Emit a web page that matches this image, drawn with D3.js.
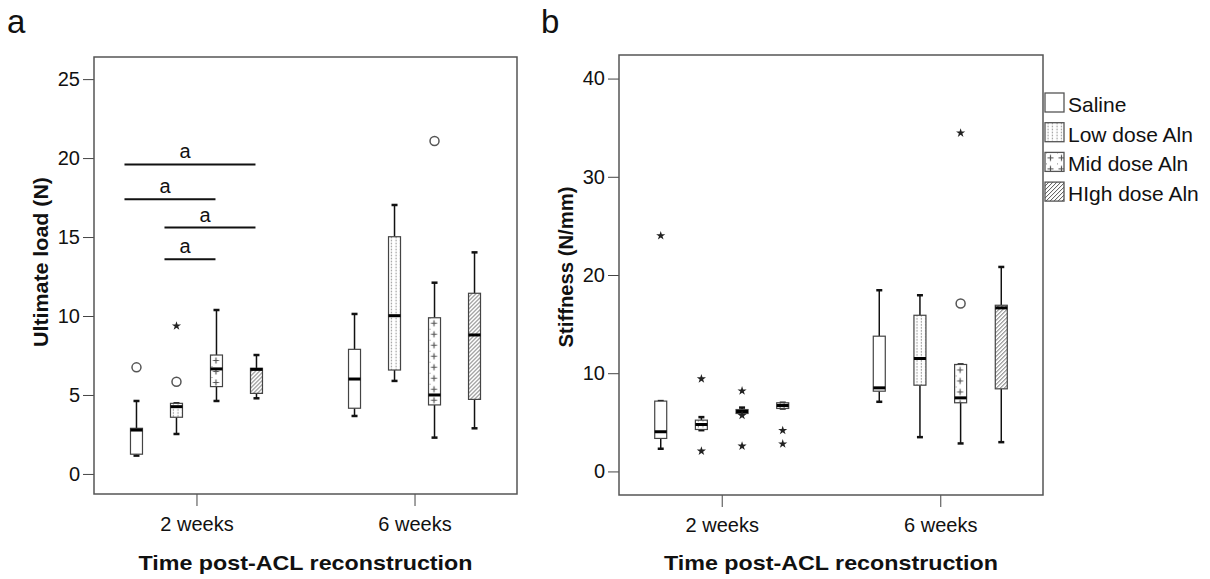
<!DOCTYPE html>
<html>
<head>
<meta charset="utf-8">
<script src="https://cdn.jsdelivr.net/npm/d3@7"></script>
<style>
  body { margin: 0; background: #fff; }
  text { font-family: Arial, "Liberation Sans", sans-serif; fill: #111; }
</style>
</head>
<body>
<svg id="chart" width="1210" height="579"></svg>
<script>
/*******************************************************************************************/
// Data

var timepoints = ['2 weeks', '6 weeks'];
var groups = ['Saline', 'Low dose Aln', 'Mid dose Aln', 'HIgh dose Aln'];

// [whisker low, Q1, median, Q3, whisker high], one row per group
var loadBoxes2wk  = [[1.16, 1.25, 2.78, 2.89, 4.62], [2.53, 3.59, 4.26, 4.47, 4.47], [4.62, 5.53, 6.65, 7.53, 10.38], [4.79, 5.10, 6.62, 6.69, 7.53]];
var loadBoxes6wk  = [[3.67, 4.16, 6.01, 7.89, 10.13], [5.89, 6.58, 10.02, 15.02, 17.03], [2.30, 4.37, 5.00, 9.89, 12.11], [2.89, 4.72, 8.80, 11.44, 14.03]];
var stiffBoxes2wk = [[2.31, 3.36, 4.04, 7.16, 7.16], [4.20, 4.27, 4.78, 5.22, 5.53], [5.85, 5.90, 6.10, 6.30, 6.50], [6.41, 6.41, 6.71, 6.99, 6.99]];
var stiffBoxes6wk = [[7.09, 8.17, 8.51, 13.77, 18.45], [3.49, 8.78, 11.50, 15.90, 17.94], [2.85, 6.99, 7.49, 10.89, 10.89], [2.98, 8.41, 16.65, 16.92, 20.82]];

// [timepoint, group, value, kind]  kind: 'o' outlier, '*' extreme
var loadOutliers = [
  ['2 weeks', 'Saline', 6.75, 'o'],
  ['2 weeks', 'Low dose Aln', 5.84, 'o'],
  ['2 weeks', 'Low dose Aln', 9.37, '*'],
  ['6 weeks', 'Mid dose Aln', 21.08, 'o']
];
var stiffOutliers = [
  ['2 weeks', 'Saline', 24.0, '*'],
  ['2 weeks', 'Low dose Aln', 9.43, '*'],
  ['2 weeks', 'Low dose Aln', 2.07, '*'],
  ['2 weeks', 'Mid dose Aln', 8.2, '*'],
  ['2 weeks', 'Mid dose Aln', 5.7, '*'],
  ['2 weeks', 'Mid dose Aln', 2.58, '*'],
  ['2 weeks', 'HIgh dose Aln', 4.17, '*'],
  ['2 weeks', 'HIgh dose Aln', 2.8, '*'],
  ['6 weeks', 'Mid dose Aln', 17.09, 'o'],
  ['6 weeks', 'Mid dose Aln', 34.46, '*']
];

// significance bars at 2 weeks: [from group, to group, height]
var sigBars = [
  ['Saline', 'HIgh dose Aln', 19.6],
  ['Saline', 'Mid dose Aln', 17.4],
  ['Low dose Aln', 'HIgh dose Aln', 15.6],
  ['Low dose Aln', 'Mid dose Aln', 13.6]
];

var loadTicks = [0, 5, 10, 15, 20, 25];
var stiffTicks = [0, 10, 20, 30, 40];

/*******************************************************************************************/
// Drawing

var svg = d3.select('#chart');
svg.append('rect').attr('width', 1210).attr('height', 579).attr('fill', '#fff');
var defs = svg.append('defs');
var patternKinds = ['plain', 'dots', 'plus', 'hatch'];
var patCount = 0;

function makeFill(kind, x0, y0){
  if(kind == 'plain') return '#fff';
  var id = 'pat' + (patCount++);
  var p = defs.append('pattern').attr('id', id).attr('patternUnits', 'userSpaceOnUse').attr('x', x0).attr('y', y0);
  if(kind == 'dots'){
    p.attr('width', 4.5).attr('height', 3);
    p.append('rect').attr('width', 4.5).attr('height', 3).attr('fill', '#fff');
    p.append('rect').attr('x', 2.5).attr('y', 0).attr('width', 1).attr('height', 1.4).attr('fill', '#777');
  }
  if(kind == 'plus'){
    p.attr('width', 11).attr('height', 11);
    p.append('rect').attr('width', 11).attr('height', 11).attr('fill', '#fff');
    p.append('path').attr('d', 'M5.5,2.5V8.5M2.5,5.5H8.5').attr('stroke', '#555').attr('stroke-width', 1.2);
    p.append('rect').attr('x', 1).attr('y', 0).attr('width', 1).attr('height', 1).attr('fill', '#888');
  }
  if(kind == 'hatch'){
    p.attr('width', 4).attr('height', 4);
    p.append('rect').attr('width', 4).attr('height', 4).attr('fill', '#fff');
    p.append('path').attr('d', 'M-1,1L1,-1M0,4L4,0M3,5L5,3').attr('stroke', '#555').attr('stroke-width', 1);
  }
  return 'url(#' + id + ')';
}

function drawPanel(o){
  var g = svg.append('g');
  var x = d3.scalePoint().domain(timepoints).range([o.x0, o.x1]).padding(0.47);
  var xg = d3.scalePoint().domain(groups).range([-o.spread, o.spread]);
  var y = d3.scaleLinear().domain(o.domain).range([o.y1, o.y0]);
  var bw = 12;

  // y axis
  var ya = g.append('g').attr('transform', 'translate(' + o.x0 + ',0)')
    .call(d3.axisLeft(y).tickValues(o.ticks).tickSize(11).tickPadding(3));
  ya.select('.domain').remove();
  ya.selectAll('line').attr('stroke', '#444');
  ya.selectAll('text').style('font-size', '20px').attr('fill', '#111');

  // x axis
  var xa = g.append('g').attr('transform', 'translate(0,' + o.y1 + ')')
    .call(d3.axisBottom(x).tickSize(12).tickPadding(11));
  xa.select('.domain').remove();
  xa.selectAll('line').attr('stroke', '#444');
  xa.selectAll('text').style('font-size', '20px').attr('fill', '#111');

  // frame
  g.append('rect').attr('x', o.x0).attr('y', o.y0).attr('width', o.x1 - o.x0).attr('height', o.y1 - o.y0)
    .attr('fill', 'none').attr('stroke', '#555').attr('stroke-width', 1.5);

  // boxes
  o.boxes.forEach(function(rows, ti){
    rows.forEach(function(s, gi){
      var cx = x(timepoints[ti]) + xg(groups[gi]);
      var bx = g.append('g');
      bx.append('line').attr('x1', cx).attr('x2', cx).attr('y1', y(s[4])).attr('y2', y(s[3])).attr('stroke', '#111').attr('stroke-width', 1.5);
      bx.append('line').attr('x1', cx).attr('x2', cx).attr('y1', y(s[1])).attr('y2', y(s[0])).attr('stroke', '#111').attr('stroke-width', 1.5);
      [s[0], s[4]].forEach(function(v){
        bx.append('line').attr('x1', cx - 3).attr('x2', cx + 3).attr('y1', y(v)).attr('y2', y(v)).attr('stroke', '#111').attr('stroke-width', 2.5);
      });
      bx.append('rect').attr('x', cx - bw / 2).attr('y', y(s[3])).attr('width', bw).attr('height', Math.max(1, y(s[1]) - y(s[3])))
        .attr('fill', makeFill(patternKinds[gi], cx - bw / 2, y(s[3]))).attr('stroke', '#444').attr('stroke-width', 1.2);
      bx.append('line').attr('x1', cx - bw / 2).attr('x2', cx + bw / 2).attr('y1', y(s[2])).attr('y2', y(s[2])).attr('stroke', '#000').attr('stroke-width', 3);
    });
  });

  // outliers
  o.outliers.forEach(function(d){
    var cx = x(d[0]) + xg(d[1]), cy = y(d[2]);
    if(d[3] == 'o'){
      g.append('circle').attr('cx', cx).attr('cy', cy).attr('r', 4.5).attr('fill', '#fff').attr('stroke', '#555').attr('stroke-width', 1.5);
    } else {
      g.append('path').attr('d', d3.symbol(d3.symbolStar, 26)()).attr('transform', 'translate(' + cx + ',' + cy + ')').attr('fill', '#222');
    }
  });

  // significance bars
  (o.sig || []).forEach(function(d){
    var xa1 = x('2 weeks') + xg(d[0]) - 12, xa2 = x('2 weeks') + xg(d[1]) - 1;
    g.append('line').attr('x1', xa1).attr('x2', xa2).attr('y1', y(d[2])).attr('y2', y(d[2])).attr('stroke', '#111').attr('stroke-width', 2);
    g.append('text').attr('x', (xa1 + xa2) / 2 - 5).attr('y', y(d[2]) - 6).attr('text-anchor', 'middle').style('font-size', '20px').text('a');
  });

  // titles
  g.append('text').attr('x', (o.x0 + o.x1) / 2).attr('y', 570).attr('text-anchor', 'middle')
    .attr('textLength', 334).attr('lengthAdjust', 'spacingAndGlyphs')
    .style('font-size', '21px').style('font-weight', 'bold').text('Time post-ACL reconstruction');
  g.append('text').attr('transform', 'translate(' + o.ytx + ',' + o.yty + ') rotate(-90)').attr('text-anchor', 'middle')
    .attr('textLength', o.ylen).attr('lengthAdjust', 'spacingAndGlyphs')
    .style('font-size', '21px').style('font-weight', 'bold').text(o.ytitle);
  g.append('text').attr('x', o.lx).attr('y', 33).style('font-size', '33px').text(o.letter);
}

drawPanel({ x0: 94, x1: 517, y0: 57, y1: 494, domain: [-1.27, 26.4], ticks: loadTicks, spread: 60,
  boxes: [loadBoxes2wk, loadBoxes6wk], outliers: loadOutliers, sig: sigBars,
  ytitle: 'Ultimate load (N)', ytx: 48, yty: 262, ylen: 170, letter: 'a', lx: 7 });

drawPanel({ x0: 619, x1: 1043, y0: 55, y1: 495, domain: [-2.4, 42.4], ticks: stiffTicks, spread: 61,
  boxes: [stiffBoxes2wk, stiffBoxes6wk], outliers: stiffOutliers,
  ytitle: 'Stiffness (N/mm)', ytx: 573, yty: 267, ylen: 161, letter: 'b', lx: 541 });

// legend
var legend = svg.append('g');
groups.forEach(function(name, i){
  var ly = 93 + i * 29.7;
  legend.append('rect').attr('x', 1045).attr('y', ly).attr('width', 19).attr('height', 19)
    .attr('fill', makeFill(patternKinds[i], 1045, ly)).attr('stroke', '#555').attr('stroke-width', 1.3);
  legend.append('text').attr('x', 1068).attr('y', ly + 19).style('font-size', '21px').text(name);
});
</script>
</body>
</html>
